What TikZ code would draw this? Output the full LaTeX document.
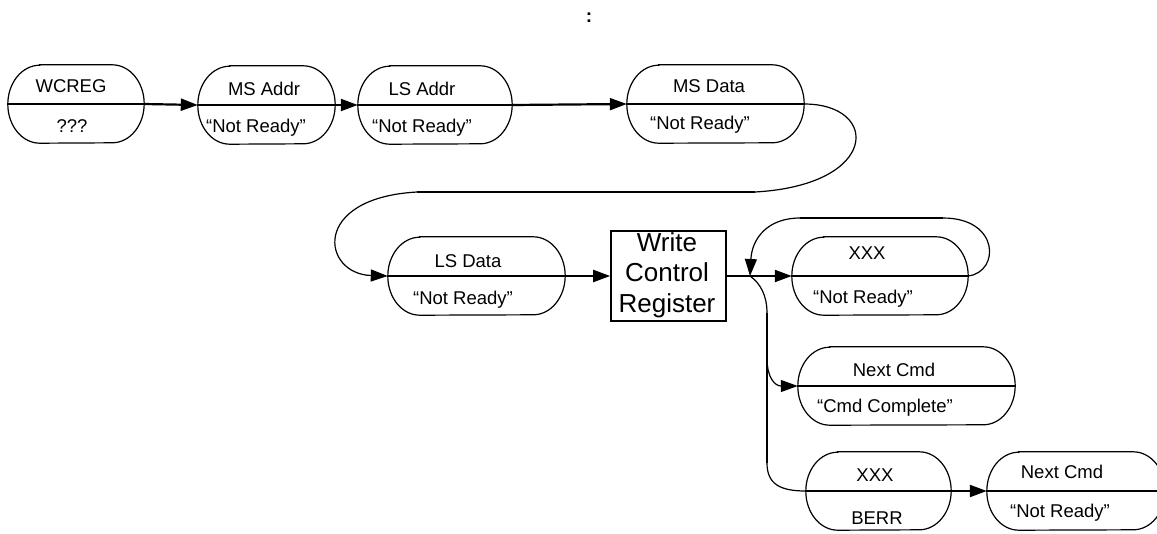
\documentclass[tikz,border=0pt]{standalone}
\usepackage{fontspec}
\setmainfont{Liberation Sans}
\usetikzlibrary{arrows.meta}
\newcommand\pilloutline[1]{%
  \draw[line width=1.2pt] ([xshift=32pt]#1.north west) -- ([xshift=-32pt]#1.north east)
    arc[start angle=90,end angle=-90,x radius=32pt,y radius=39pt]
    -- ([xshift=32pt]#1.south west)
    arc[start angle=270,end angle=90,x radius=32pt,y radius=39pt] -- cycle;
  \draw[line width=2.2pt] (#1.west) -- (#1.east);}
\begin{document}
\begin{tikzpicture}[x=1pt,y=-1pt,
  pill/.style={minimum height=78pt,inner sep=0pt},
  txt/.style={anchor=base,inner sep=0pt,font=\fontsize{18.5}{21}\selectfont},
  thickline/.style={line width=2.2pt},
  conn/.style={line width=2.2pt,-{Triangle[length=17pt,width=12pt]}},
  thinconn/.style={line width=1.2pt},
  thinarrow/.style={line width=1.2pt,-{Triangle[length=17pt,width=12pt]}},
  regbox/.style={draw,line width=1.6pt,minimum width=115pt,minimum height=90pt,inner sep=0pt}]
\useasboundingbox (0,0) rectangle (1157,533);
\clip (0,0) rectangle (1157,533);

\node[anchor=base,inner sep=0pt,font=\fontsize{19}{21}\selectfont\bfseries] (colon) at (589,22) {:};

% pills
\node[pill,minimum width=136pt] (wcreg) at (76,104) {};
\node[pill,minimum width=137pt] (msaddr) at (266.5,105) {};
\node[pill,minimum width=154pt] (lsaddr) at (435,105) {};
\node[pill,minimum width=177pt] (msdata) at (715.5,104) {};
\node[pill,minimum width=177pt] (lsdata) at (476.5,276) {};
\node[regbox] (wcr) at (668.5,276) {};
\node[pill,minimum width=176pt] (xxxa) at (880,276) {};
\node[pill,minimum width=217pt] (nexta) at (906.5,386) {};
\node[pill,minimum width=145pt] (xxxb) at (878.5,491) {};
\node[pill,minimum width=178pt] (nextb) at (1076,491) {};
\foreach \p in {wcreg,msaddr,lsaddr,msdata,lsdata,xxxa,nexta,xxxb,nextb}{\pilloutline{\p}}

% texts
\node[txt] (t1a) at (71,92) {WCREG};
\node[txt] (t1b) at (72,132) {???};
\node[txt] (t2a) at (264,95) {MS Addr};
\node[txt] (t2b) at (256,132) {“Not Ready”};
\node[txt] (t3a) at (422,95) {LS Addr};
\node[txt] (t3b) at (422,132) {“Not Ready”};
\node[txt] (t4a) at (709,92) {MS Data};
\node[txt] (t4b) at (700,129) {“Not Ready”};
\node[txt] (t5a) at (468,267) {LS Data};
\node[txt] (t5b) at (463,304) {“Not Ready”};
\node[align=center,inner sep=0pt,font=\fontsize{26}{30.5}\selectfont] (t6) at (667,275) {Write\\Control\\Register};
\node[txt] (t7a) at (867,259) {XXX};
\node[txt] (t7b) at (863,303) {“Not Ready”};
\node[txt] (t8a) at (894,376) {Next Cmd};
\node[txt] (t8b) at (885,412) {“Cmd Complete”};
\node[txt] (t9a) at (875,481) {XXX};
\node[txt] (t9b) at (877,524) {BERR};
\node[txt] (t10a) at (1062,478) {Next Cmd};
\node[txt] (t10b) at (1060,517) {“Not Ready”};

% coordinates
\coordinate (c1) at (755,192);
\coordinate (c2) at (417,192);
\coordinate (jn) at (750,276);
\coordinate (v1) at (767,313);
\coordinate (v2) at (767,358);
\coordinate (v3) at (767,463);
\coordinate (l1) at (943,218);
\coordinate (l2) at (800,218);

% connectors
\draw[conn] (wcreg.east) -- (msaddr.west);
\draw[conn] (msaddr.east) -- (lsaddr.west);
\draw[conn] (lsaddr.east) -- (msdata.west);
\draw[thinconn] (msdata.east) .. controls (880,104) and (880,185) .. (c1);
\draw[thickline] (c1) -- (c2);
\draw[thinarrow] (c2) .. controls (310,198) and (322,274) .. (lsdata.west);
\draw[conn] (lsdata.east) -- (wcr.west);
\draw[thickline] (wcr.east) -- (jn);
\draw[conn] (jn) -- (xxxa.west);
\draw[thinconn] (xxxa.east) .. controls (1000,272) and (1000,218) .. (l1);
\draw[thickline] (l1) -- (l2);
\draw[thinarrow] (l2) .. controls (768,218) and (752,238) .. (jn);
\draw[thinconn] (jn) .. controls (760,283) and (767,295) .. (v1);
\draw[thickline] (v1) -- (v3);
\draw[thinarrow] (v2) .. controls (767,378) and (775,386) .. (nexta.west);
\draw[thinconn] (v3) .. controls (767,484) and (780,491) .. (xxxb.west);
\draw[conn] (xxxb.east) -- (nextb.west);
\end{tikzpicture}
\end{document}
